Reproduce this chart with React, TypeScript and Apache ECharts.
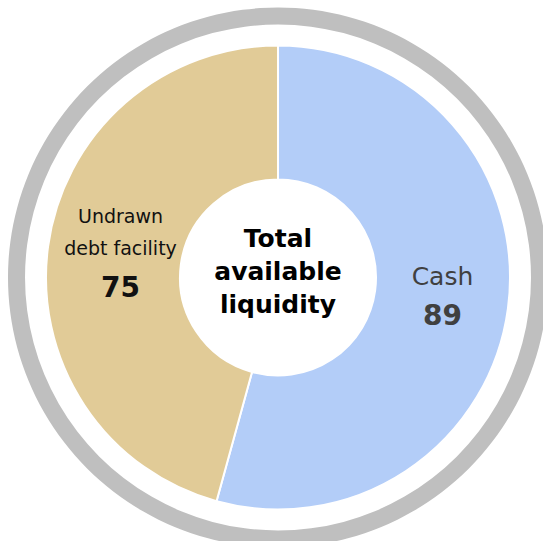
import React, { useEffect, useRef } from "react";
import * as echarts from "echarts";

const categories = ["Cash", "Undrawn\ndebt facility"];
const values = [89, 75];
const centerTitle = "Total\navailable\nliquidity";

export default function App() {
  const ref = useRef<HTMLDivElement>(null);
  useEffect(() => {
    if (!ref.current) return;
    const chart = echarts.init(ref.current, undefined, { renderer: "svg" });
    const colors = ["#b3cdf8", "#e1cb97"];
    const labelStyles = [
      { nameColor: "#404040", nameSize: 25, valColor: "#404040", lh: 32, pad: [0, 4, 0, 0] },
      { nameColor: "#111111", nameSize: 19, valColor: "#111111", lh: 32, pad: [0, 0, 0, 18] },
    ];
    const FONT = "'DejaVu Sans', sans-serif";
    chart.setOption({
      animation: false,
      backgroundColor: "#ffffff",
      graphic: [
        {
          type: "text",
          x: 278,
          y: 271,
          style: {
            text: centerTitle,
            align: "center",
            verticalAlign: "middle",
            font: `bold 25px ${FONT}`,
            lineHeight: 33,
            fill: "#000000",
          },
        },
      ],
      series: [
        {
          type: "pie",
          silent: true,
          center: [278, 277.5],
          radius: [253, 270],
          startAngle: 90,
          label: { show: false },
          labelLine: { show: false },
          itemStyle: { color: "#bfbfbf" },
          data: [{ value: 1, name: "ring" }],
        },
        {
          type: "pie",
          center: [278, 277.5],
          radius: [98, 232],
          startAngle: 90,
          clockwise: true,
          itemStyle: { borderColor: "#ffffff", borderWidth: 2 },
          labelLine: { show: false },
          data: categories.map((c, i) => ({
            name: c,
            value: values[i],
            itemStyle: { color: colors[i] },
            label: {
              show: true,
              position: "inside",
              padding: labelStyles[i].pad,
              formatter: "{n|{b}}\n{v|{c}}",
              rich: {
                n: {
                  fontFamily: FONT,
                  fontSize: labelStyles[i].nameSize,
                  color: labelStyles[i].nameColor,
                  lineHeight: labelStyles[i].lh,
                  align: "center",
                },
                v: {
                  fontFamily: FONT,
                  fontSize: 28,
                  fontWeight: "bold",
                  color: labelStyles[i].valColor,
                  lineHeight: 46,
                  align: "center",
                },
              },
            },
          })),
        },
      ],
    });
    return () => chart.dispose();
  }, []);
  return (
    <div
      ref={ref}
      style={{ position: "fixed", left: 0, top: 0, width: 543, height: 541 }}
    />
  );
}
